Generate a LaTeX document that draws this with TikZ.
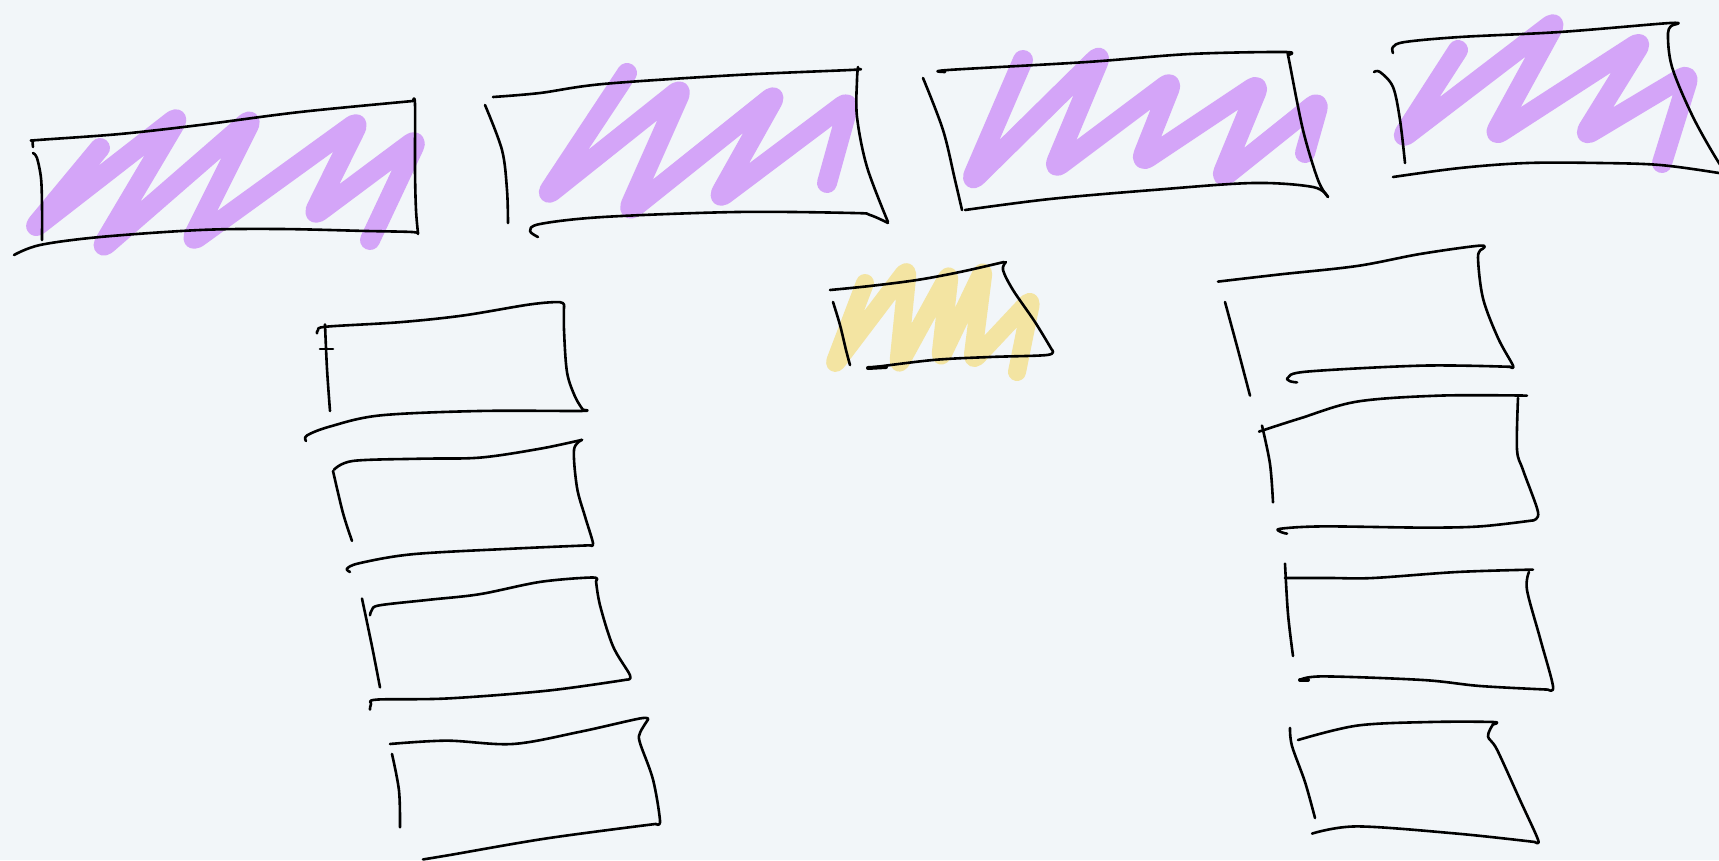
\documentclass[tikz,border=0pt]{standalone}
\definecolor{bgc}{HTML}{F2F6F9}
\definecolor{lilac}{HTML}{D4A5F8}
\definecolor{sand}{HTML}{F3E4A2}
\tikzset{
  ink/.style={draw=black, line width=2.6pt, line cap=round, line join=round},
  curve/.style={ink, smooth, tension=0.55},
  purplescrib/.style={draw=lilac, line width=20pt, line cap=round, line join=round, rounded corners=10pt},
  yellowscrib/.style={draw=sand, line width=18pt, line cap=round, line join=round, rounded corners=8pt},
}
\begin{document}
\begin{tikzpicture}[x=1pt,y=-1pt]
\useasboundingbox (0,0) rectangle (1719,860);
\fill[bgc] (0,0) rectangle (1719,860);
\clip (0,0) rectangle (1719,860);

% ---------- scribbles ----------
\draw[purplescrib] (100,148) -- (32,230) -- (180,115) -- (100,250) -- (253,117) -- (190,243) -- (360,120) -- (312,217) -- (418,138) -- (370,240);
\draw[purplescrib] (627,73) -- (545,197) -- (683,87) -- (627,213) -- (777,93) -- (717,200) -- (850,100) -- (827,183);
\draw[purplescrib] (1023,60) -- (970,183) -- (1102,53) -- (1053,170) -- (1173,80) -- (1140,163) -- (1260,83) -- (1220,180) -- (1320,100) -- (1305,153);
\draw[purplescrib] (1458,50) -- (1400,140) -- (1557,20) -- (1493,137) -- (1643,40) -- (1583,137) -- (1690,73) -- (1662,163);
\draw[yellowscrib] (865,283) -- (833,367) -- (908,268) -- (898,367) -- (950,272) -- (940,360) -- (984,268) -- (972,362) -- (1032,298) -- (1017,372);

% ---------- box 1 ----------
\draw[curve] plot coordinates {(33,147) (33,141) (38,140) (120,134) (200,125) (300,112) (413,101)};
\draw[curve] plot coordinates {(413,101) (415,104) (415,170) (416,210) (418,233)};
\draw[curve] plot coordinates {(418,234) (412,232) (367,231) (280,229) (200,230) (100,237) (40,245) (14,255)};
\draw[curve] plot coordinates {(33,153) (37,158) (41,178) (42,205) (42,240)};

% ---------- box 2 ----------
\draw[curve] plot coordinates {(493,97) (540,93) (603,84) (737,75) (850,70) (858,69)};
\draw[curve] plot coordinates {(858,67) (857,80) (857,117) (867,167) (888,222)};
\draw[curve] plot coordinates {(888,223) (870,215) (853,213) (737,212) (603,217) (540,224) (530,231) (538,237)};
\draw[curve] plot coordinates {(485,105) (502,150) (507,190) (508,223)};

% ---------- box 3 ----------
\draw[curve] plot coordinates {(945,72) (948,70) (1087,62) (1190,54) (1285,52) (1288,55)};
\draw[curve] plot coordinates {(1288,55) (1289,60) (1303,130) (1318,180) (1328,197)};
\draw[curve] plot coordinates {(1328,197) (1313,187) (1253,183) (1153,190) (1050,199) (965,210)};
\draw[curve] plot coordinates {(923,78) (943,130) (955,180) (962,210)};

% ---------- box 4 ----------
\draw[curve] plot coordinates {(1393,53) (1393,47) (1405,42) (1460,37) (1560,32) (1670,23) (1673,25)};
\draw[curve] plot coordinates {(1673,25) (1668,33) (1672,67) (1693,117) (1719,163) (1730,175)};
\draw[curve] plot coordinates {(1393,177) (1460,168) (1527,163) (1600,163) (1660,165) (1719,173) (1730,176)};
\draw[curve] plot coordinates {(1374,72) (1380,72) (1393,87) (1400,120) (1405,163)};

% ---------- yellow box ----------
\draw[curve] plot coordinates {(830,290) (870,286) (917,280) (960,272) (1004,262)};
\draw[curve] plot coordinates {(1006,262) (1003,270) (1013,290) (1035,322) (1052,350)};
\draw[curve] plot coordinates {(1052,350) (1047,355) (990,357) (933,360) (868,368)};
\draw[ink, line width=4pt] (868,368) -- (886,367);
\draw[curve] plot coordinates {(833,302) (840,325) (846,350) (850,365)};

% ---------- left stack ----------
\begin{scope}[shift={(0,280)}, yscale=1.11, shift={(0,-280)}]
\draw[curve] plot coordinates {(317,328) (318,325) (327,322) (400,318) (463,312) (530,302) (560,300) (564,304)};
\draw[curve] plot coordinates {(564,304) (564,325) (567,363) (575,385) (583,397)};
\draw[curve] plot coordinates {(583,397) (580,398) (480,398) (380,402) (330,412) (307,420) (306,425)};
\draw[curve] plot coordinates {(325,320) (327,360) (330,398)};
\draw[ink] (320,342) -- (333,342);

\draw[curve] plot coordinates {(334,451) (353,443) (420,441) (480,440) (540,432) (582,424)};
\draw[curve] plot coordinates {(582,424) (574,433) (577,467) (585,493) (593,517) (590,519)};
\draw[curve] plot coordinates {(590,519) (513,522) (413,527) (360,535) (347,540) (350,543)};
\draw[curve] plot coordinates {(333,452) (343,490) (352,515)};

\draw[curve] plot coordinates {(370,582) (372,577) (380,573) (430,568) (480,563) (540,552) (592,548) (596,551)};
\draw[curve] plot coordinates {(596,551) (600,573) (613,610) (630,636) (627,640)};
\draw[curve] plot coordinates {(627,640) (547,650) (447,657) (377,658) (371,662) (370,667)};
\draw[curve] plot coordinates {(362,567) (372,610) (380,647)};

\draw[curve] plot coordinates {(390,698) (447,695) (513,698) (580,687) (640,675) (648,676)};
\draw[curve] plot coordinates {(648,676) (640,688) (640,697) (653,730) (660,767) (656,770)};
\draw[curve] plot coordinates {(656,770) (547,783) (450,798) (423,802)};
\draw[curve] plot coordinates {(392,707) (399,740) (400,773)};
\end{scope}

% ---------- right stack ----------
\begin{scope}[shift={(0,230)}, yscale=1.2, shift={(0,-230)}]
\draw[curve] plot coordinates {(1218,273) (1280,267) (1357,260) (1420,250) (1480,243) (1482,246)};
\draw[curve] plot coordinates {(1482,246) (1478,253) (1483,287) (1498,320) (1513,343) (1510,344)};
\draw[curve] plot coordinates {(1510,344) (1423,343) (1307,348) (1288,353) (1290,356) (1297,357)};
\draw[curve] plot coordinates {(1225,290) (1238,330) (1250,368)};

\draw[curve] plot coordinates {(1259,398) (1300,387) (1357,373) (1440,368) (1527,368)};
\draw[curve] plot coordinates {(1518,370) (1517,413) (1523,430) (1538,465) (1533,472)};
\draw[curve] plot coordinates {(1533,472) (1480,477) (1423,478) (1323,477) (1280,479) (1282,482) (1287,483)};
\draw[curve] plot coordinates {(1262,393) (1270,425) (1273,457)};

\draw[curve] plot coordinates {(1285,520) (1330,520) (1373,520) (1457,515) (1533,513)};
\draw[curve] plot coordinates {(1529,515) (1527,530) (1540,570) (1553,610) (1548,613)};
\draw[curve] plot coordinates {(1548,613) (1480,610) (1423,605) (1323,602) (1300,605)};
\draw[ink, line width=4pt] (1300,605) -- (1308,605);
\draw[curve] plot coordinates {(1285,508) (1288,550) (1293,585)};

\draw[curve] plot coordinates {(1298,655) (1357,643) (1430,640) (1493,640) (1493,642)};
\draw[curve] plot coordinates {(1493,642) (1488,652) (1497,663) (1520,705) (1538,738) (1535,740)};
\draw[curve] plot coordinates {(1535,740) (1457,733) (1357,727) (1312,733)};
\draw[curve] plot coordinates {(1290,645) (1292,660) (1305,690) (1315,720)};
\end{scope}
\end{tikzpicture}
\end{document}
